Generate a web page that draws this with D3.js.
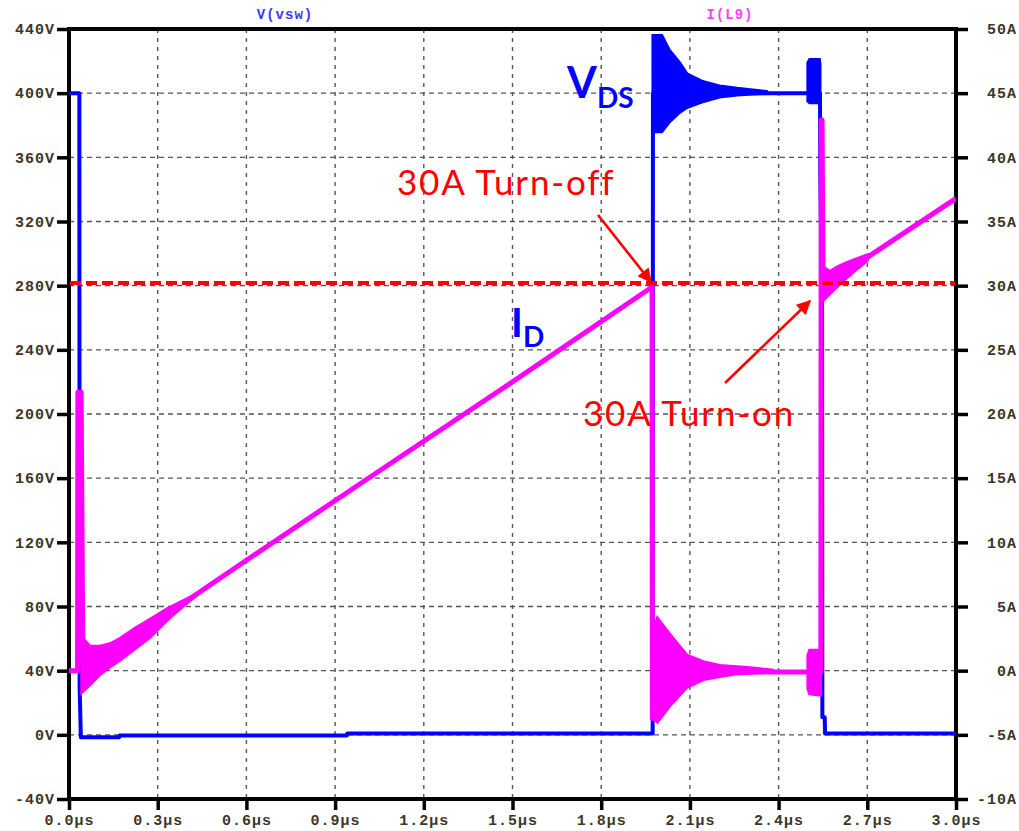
<!DOCTYPE html>
<html><head><meta charset="utf-8">
<script src="https://cdn.jsdelivr.net/npm/d3@7/dist/d3.min.js"></script>
<style>
html,body{margin:0;padding:0;background:#fff;}
.tick text{font-family:"Liberation Mono",monospace;font-weight:bold;font-size:15px;fill:#3d3628;letter-spacing:1px;}
</style></head><body>
<svg id="c" width="1019" height="831"></svg>
<script>
// ---- data ----
const timeTicks = [0.0,0.3,0.6,0.9,1.2,1.5,1.8,2.1,2.4,2.7,3.0];
const voltTicks = [-40,0,40,80,120,160,200,240,280,320,360,400,440];
const ampTicks = [-10,-5,0,5,10,15,20,25,30,35,40,45,50];

// V(vsw): [time µs, volts]
const vswTime = [0,0.035,0.036,0.040,0.170,0.171,0.940,0.941,1.974,1.975,2.300,2.499,2.540,2.541,2.547,2.548,2.556,2.557,3.0];
const vswVolt = [400,400,30,-1.5,-1.5,-0.4,-0.4,0.8,0.8,400,400,400,400,350,263,11,11,0.8,0.8];
// V(vsw) ringing envelopes: [time, low, high]
const vswRingOff = [[1.975,376,436],[2.005,376,436],[2.03,382,427],[2.065,388,419],[2.09,391,412],[2.14,394.5,407.5],[2.2,397.6,404.5],[2.26,398.9,403],[2.313,399.5,402],[2.36,399.8,401]];
const vswRingOn = [[2.499,395,419],[2.505,394,421],[2.538,394,421],[2.540,396,418]];

// I(L9): [time µs, amps]
const il9Time = [0,0.029,0.030,0.041,0.047,0.3,0.6,1.0,1.5,1.972,1.973,1.99,2.38,2.538,2.543,2.544,2.547,2.550,2.56,2.7,3.0];
const il9Amp = [0,0,21.7,21.7,0.2,3.9,8.6,14.8,22.5,29.9,-3.7,0,-0.1,-0.1,-0.1,42.9,42.9,31.2,30.0,32.2,36.8];
// I(L9) ringing envelopes: [time, low, high]
const il9RingStart = [[0.043,-1.7,2.6],[0.071,-1.1,1.9],[0.105,-0.3,1.9],[0.139,0.3,2.1],[0.172,0.8,2.5],[0.223,1.7,3.3],[0.274,2.6,4.0],[0.33,3.9,4.8],[0.39,5.1,5.5],[0.43,5.85,5.95]];
const il9RingOff = [[1.974,-3.7,3.0],[1.99,-4.0,4.1],[2.03,-2.8,2.9],[2.09,-1.3,1.2],[2.145,-0.7,0.7],[2.202,-0.45,0.4],[2.26,-0.25,0.3],[2.313,-0.2,0.2],[2.38,-0.12,0.05]];
const il9RingOn = [[2.499,-1.4,1.2],[2.505,-1.8,1.6],[2.538,-1.9,1.6],[2.542,-1.9,1.6]];
const il9RingAfter = [[2.548,28.8,31.5],[2.574,29.4,31.1],[2.597,29.9,31.45],[2.63,30.6,31.8],[2.665,31.3,32.1],[2.7,31.95,32.4]];

const refLevel = 30.2; // red dashed 30A line
const titles = ["V(vsw)","I(L9)"];

// ---- drawing ----
const svg = d3.select("#c");
const x = d3.scaleLinear().domain([0,3]).range([69,956]);
const yV = d3.scaleLinear().domain([-40,440]).range([799,29]);
const yA = d3.scaleLinear().domain([-10,50]).range([799,29]);

// grid
const grid = svg.append("g").attr("stroke","#555").attr("stroke-width",1.4);
timeTicks.slice(1,-1).forEach(t=>grid.append("line").attr("x1",x(t)).attr("x2",x(t)).attr("y1",29).attr("y2",799).attr("stroke-dasharray","4,5"));
voltTicks.slice(1,-1).forEach(v=>grid.append("line").attr("x1",69).attr("x2",956).attr("y1",yV(v)).attr("y2",yV(v)).attr("stroke-dasharray","5,4"));

// axes
const axL = svg.append("g").attr("transform","translate(69,0)")
  .call(d3.axisLeft(yV).tickValues(voltTicks).tickSize(12).tickSizeOuter(0).tickPadding(2).tickFormat(d=>d+"V"));
const axR = svg.append("g").attr("transform","translate(956,0)")
  .call(d3.axisRight(yA).tickValues(ampTicks).tickSize(12).tickSizeOuter(0).tickPadding(2).tickFormat(d=>d+"A"));
axR.selectAll(".tick text").attr("x",61).attr("text-anchor","end");
const axB = svg.append("g").attr("transform","translate(0,799)")
  .call(d3.axisBottom(x).tickValues(timeTicks).tickSize(11).tickSizeOuter(0).tickPadding(4).tickFormat(d=>d.toFixed(1)+"µs"));
[axL,axR,axB].forEach(a=>{a.select(".domain").remove();a.selectAll(".tick line").attr("stroke","#000").attr("stroke-width",3.5);});
// frame
const fr = svg.append("g").attr("stroke","#000").attr("stroke-width",4);
fr.append("line").attr("x1",69).attr("x2",69).attr("y1",27).attr("y2",801);
fr.append("line").attr("x1",956).attr("x2",956).attr("y1",27).attr("y2",801);
fr.append("line").attr("x1",67).attr("x2",958).attr("y1",29).attr("y2",29);
fr.append("line").attr("x1",67).attr("x2",958).attr("y1",799).attr("y2",799);

// titles
svg.append("text").attr("x",285).attr("y",19).attr("text-anchor","middle").attr("fill","#3838ff")
  .attr("font-family","Liberation Mono").attr("font-weight","bold").attr("font-size",14).attr("letter-spacing",1).text(titles[0]);
svg.append("text").attr("x",730).attr("y",19).attr("text-anchor","middle").attr("fill","#ff40ff")
  .attr("font-family","Liberation Mono").attr("font-weight","bold").attr("font-size",14).attr("letter-spacing",1).text(titles[1]);

const blue="#0000ff", mag="#ff00ff";
const clip = svg.append("clipPath").attr("id","pc").append("rect").attr("x",69).attr("y",29).attr("width",887).attr("height",770);
const plot = svg.append("g").attr("clip-path","url(#pc)");

function band(data, ys, color){
  const a = d3.area().x(d=>x(d[0])).y0(d=>ys(d[1])).y1(d=>ys(d[2]));
  plot.append("path").attr("d",a(data)).attr("fill",color).attr("stroke",color).attr("stroke-width",3);
}
const lineV = d3.line().x((d,i)=>x(vswTime[i])).y((d,i)=>yV(vswVolt[i]));
plot.append("path").attr("d",lineV(vswTime)).attr("fill","none").attr("stroke",blue).attr("stroke-width",4).attr("stroke-linejoin","round");
band(vswRingOff,yV,blue); band(vswRingOn,yV,blue);

const lineA = d3.line().x((d,i)=>x(il9Time[i])).y((d,i)=>yA(il9Amp[i]));
plot.append("path").attr("d",lineA(il9Time)).attr("fill","none").attr("stroke",mag).attr("stroke-width",5).attr("stroke-linejoin","round");
band(il9RingStart,yA,mag); band(il9RingOff,yA,mag); band(il9RingOn,yA,mag); band(il9RingAfter,yA,mag);

// red dashed reference
svg.append("line").attr("x1",70).attr("x2",955).attr("y1",yA(refLevel)).attr("y2",yA(refLevel))
  .attr("stroke","#ff0000").attr("stroke-width",4).attr("stroke-dasharray","11,5");

// annotations
const defs = svg.append("defs");
defs.append("marker").attr("id","ah").attr("viewBox","0 0 10 10").attr("refX",9).attr("refY",5)
  .attr("markerWidth",6).attr("markerHeight",5.5).attr("orient","auto").attr("markerUnits","strokeWidth")
  .append("path").attr("d","M0,0L10,5L0,10z").attr("fill","#ff0000");
svg.append("line").attr("x1",598).attr("y1",215).attr("x2",651).attr("y2",282).attr("stroke","#ff0000").attr("stroke-width",2.6).attr("marker-end","url(#ah)");
svg.append("line").attr("x1",725).attr("y1",383).attr("x2",810).attr("y2",301).attr("stroke","#ff0000").attr("stroke-width",2.6).attr("marker-end","url(#ah)");

const ff = "Lato, 'Open Sans', sans-serif";
const vds = svg.append("text").attr("x",567).attr("y",98).attr("fill",blue).attr("font-family",ff).attr("font-weight","bold");
vds.append("tspan").attr("font-size",43).text("V");
vds.append("tspan").attr("font-size",28).attr("dy",10).text("DS");
const idt = svg.append("text").attr("x",511).attr("y",337).attr("fill",blue).attr("font-family",ff).attr("font-weight","bold");
idt.append("tspan").attr("font-size",40).text("I");
idt.append("tspan").attr("font-size",28).attr("dy",10).text("D");
svg.append("text").attr("x",397).attr("y",195).attr("fill","#ff0000").attr("font-family",ff).attr("font-size",35).attr("letter-spacing",1.8).text("30A Turn-off");
svg.append("text").attr("x",583).attr("y",426).attr("fill","#ff0000").attr("font-family",ff).attr("font-size",35).attr("letter-spacing",1.8).text("30A Turn-on");
</script></body></html>
